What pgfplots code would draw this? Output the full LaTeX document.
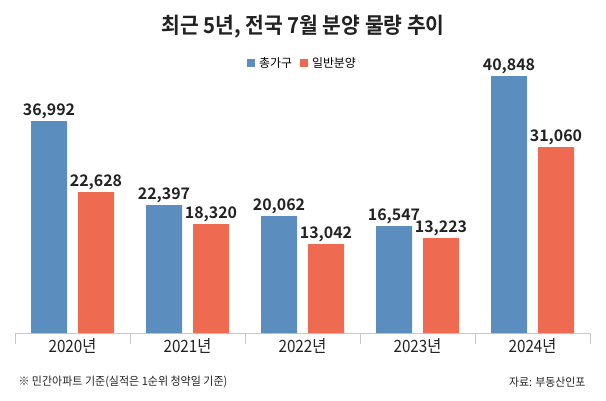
\documentclass[border=0pt]{standalone}
\usepackage{pgfplots}
\pgfplotsset{compat=1.18}
\usepackage{pgfplotstable}
\usepackage{fontspec}
\setmainfont{Noto Sans CJK KR}[BoldFont={Noto Sans CJK KR Bold}]
\definecolor{blueC}{HTML}{5B8DBF}
\definecolor{redC}{HTML}{EE6A50}
\definecolor{baseC}{HTML}{C8C8C8}
\definecolor{txtC}{HTML}{222222}

% x = category index, h = drawn bar height (chart is not to scale), lab = value
\pgfplotstableread{
x h lab
0 212 36,992
1 128 22,397
2 117 20,062
3 107 16,547
4 257 40,848
}\total
\pgfplotstableread{
x h lab
0 141 22,628
1 109 18,320
2 89 13,042
3 95 13,223
4 186 31,060
}\general

\begin{document}
\begin{tikzpicture}[x=1bp,y=1bp]
\useasboundingbox (0,0) rectangle (606,400);
\node[text=txtC] at (303,373) {\scalebox{0.93}[1]{\bfseries\fontsize{22}{24}\selectfont 최근 5년, 전국 7월 분양 물량 추이}};
\node[text=txtC, anchor=west] at (15,18) {\scalebox{0.96}[1]{\fontsize{11.5}{13}\selectfont ※ 민간아파트 기준(실적은 1순위 청약일 기준)}};
\node[text=txtC, anchor=east] at (589,18) {\scalebox{0.95}[1]{\fontsize{11.5}{13}\selectfont 자료: 부동산인포}};
\begin{axis}[
  at={(15bp,67bp)}, anchor=south west,
  scale only axis, width=575bp, height=270bp,
  xmin=-0.5, xmax=4.5, ymin=0, ymax=270,
  axis x line=bottom, axis y line=none,
  axis line style={draw=baseC, line width=0.8pt, -},
  xtick={0,1,2,3,4},
  xticklabels={2020년,2021년,2022년,2023년,2024년},
  major tick length=0pt,
  minor xtick={-0.5,0.5,1.5,2.5,3.5,4.5},
  minor tick length=11bp,
  xtick align=outside,
  minor x tick style={draw=baseC, line width=0.8pt},
  xticklabel style={anchor=base, yshift=-19bp, text=txtC,
    font=\fontsize{17}{19}\selectfont, xscale=0.9},
  clip=false,
  legend style={at={(0.5,1.0)}, anchor=center, draw=none, fill=none,
    legend columns=2, font=\fontsize{12}{13}\selectfont,
    column sep=2bp, /tikz/every even column/.append style={column sep=6bp}},
  legend image code/.code={\fill[#1] (0bp,-4bp) rectangle (8bp,4bp);},
  nodes near coords,
  point meta=explicit symbolic,
  every node near coord/.append style={anchor=base, yshift=6bp, text=txtC,
    font=\bfseries\fontsize{16}{18}\selectfont},
]
\addplot[ybar, bar width=36bp, bar shift=-23.5bp, fill=blueC, draw=none,
  every node near coord/.append style={xshift=-23.5bp}]
  table[x=x, y=h, meta=lab] {\total};
\addlegendentry{총가구}
\addplot[ybar, bar width=36bp, bar shift=23.5bp, fill=redC, draw=none,
  every node near coord/.append style={xshift=23.5bp}]
  table[x=x, y=h, meta=lab] {\general};
\addlegendentry{일반분양}
\end{axis}
\end{tikzpicture}
\end{document}
